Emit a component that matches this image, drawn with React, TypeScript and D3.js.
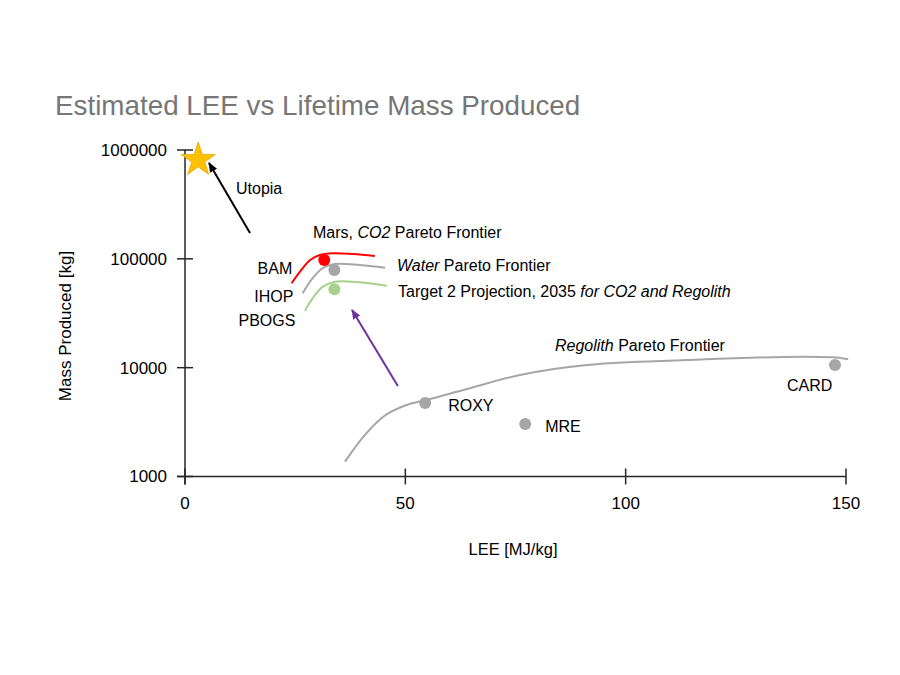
import * as d3 from 'd3';

// Axis ticks
const yTicks = [1000, 10000, 100000, 1000000];
const xTicks = [0, 50, 100, 150];

// Pareto frontier curves [LEE, mass]
const co2Frontier = [[24.2, 59600], [26.1, 76200], [28.4, 97500], [30.6, 108400], [33.6, 112400], [38.1, 110600], [43.1, 106200]];
const waterFrontier = [[26.7, 48200], [29.0, 66700], [31.3, 82400], [34.0, 89700], [39.7, 87800], [45.4, 82900]];
const target2Frontier = [[27.2, 33400], [29.0, 43600], [31.3, 55500], [34.0, 61700], [39.7, 60900], [45.8, 56600]];
const regolithFrontier = [[36.3, 1370], [40.5, 2320], [45.0, 3540], [50.3, 4540], [54.8, 5050], [63.2, 6240], [76.0, 8570], [91.2, 10600], [113.8, 11750], [140.2, 12600], [147.0, 12440], [150.5, 11940]];

// Technologies
const techNames = ['BAM', 'IHOP', 'PBOGS', 'ROXY', 'MRE', 'CARD'];
const techLee = [31.6, 33.9, 33.9, 54.5, 77.2, 147.5];
const techMass = [97500, 78900, 52500, 4730, 3030, 10600];
const techColor = ['#ff0000', '#a6a6a6', '#a9d18e', '#a6a6a6', '#a6a6a6', '#a6a6a6'];

const utopia = [3, 810000];
const utopiaArrow = [[14.75, 172600], [5.45, 760000]];
const targetArrow = [[48.3, 6790], [37.9, 33900]];

const font = '"Liberation Sans", Arial, sans-serif';

export default function App() {
  const x = d3.scaleLinear().domain([0, 150]).range([185, 846]);
  const y = d3.scaleLog().domain([1000, 1000000]).range([476.5, 150]);
  const line = d3.line<number[]>().x(d => x(d[0])).y(d => y(d[1])).curve(d3.curveCatmullRom);
  const smooth = d3.line<number[]>().x(d => x(d[0])).y(d => y(d[1])).curve(d3.curveMonotoneX);
  const star = d3.symbol().type(d3.symbolStar).size(360)();

  const arrow = (pts: number[][], color: string, id: string) => (
    <line x1={x(pts[0][0])} y1={y(pts[0][1])} x2={x(pts[1][0])} y2={y(pts[1][1])}
      stroke={color} strokeWidth={2} markerEnd={`url(#${id})`} />
  );

  // label offsets relative to the dot
  const labelPos: Record<string, [number, number, string]> = {
    BAM: [-32, 8, 'end'], IHOP: [-41, 26, 'end'], PBOGS: [-39, 31, 'end'],
    ROXY: [23, 2, 'start'], MRE: [20, 2, 'start'], CARD: [-48, 20, 'start'],
  };

  return (
    <svg width={900} height={675} style={{ position: 'absolute', left: 0, top: 0, background: '#fff' }}
      fontFamily={font}>
      <defs>
        <marker id="ab" viewBox="0 0 10 10" refX="9" refY="5" markerWidth="5" markerHeight="5" orient="auto">
          <path d="M0,1 L10,5 L0,9 z" fill="#000" />
        </marker>
        <marker id="ap" viewBox="0 0 10 10" refX="9" refY="5" markerWidth="5" markerHeight="5" orient="auto">
          <path d="M0,1 L10,5 L0,9 z" fill="#7030a0" />
        </marker>
      </defs>

      <text x={55} y={115} fontSize={27.8} fill="#767676">Estimated LEE vs Lifetime Mass Produced</text>

      {/* axes */}
      <line x1={x(0)} x2={x(0)} y1={y(1000000)} y2={y(1000) + 8} stroke="#262626" strokeWidth={1.5} />
      <line x1={x(0) - 8} x2={x(150)} y1={y(1000)} y2={y(1000)} stroke="#262626" strokeWidth={1.5} />
      {yTicks.map(t => (
        <g key={t}>
          <line x1={x(0) - 8} x2={x(0) + 8} y1={y(t)} y2={y(t)} stroke="#262626" strokeWidth={1.5} />
          <text x={167} y={y(t)} dy="0.35em" textAnchor="end" fontSize={17}>{t}</text>
        </g>
      ))}
      {xTicks.map(t => (
        <g key={t}>
          <line x1={x(t)} x2={x(t)} y1={y(1000) - 8} y2={y(1000) + 8} stroke="#262626" strokeWidth={1.5} />
          <text x={x(t)} y={503} dy="0.35em" textAnchor="middle" fontSize={17}>{t}</text>
        </g>
      ))}
      <text x={513} y={549} dy="0.35em" textAnchor="middle" fontSize={16.5}>LEE [MJ/kg]</text>
      <text transform="translate(65,326) rotate(-90)" dy="0.35em" textAnchor="middle" fontSize={17}>Mass Produced [kg]</text>

      {/* frontiers */}
      <path d={line(co2Frontier) || ''} fill="none" stroke="#ff0000" strokeWidth={2} />
      <path d={line(waterFrontier) || ''} fill="none" stroke="#a6a6a6" strokeWidth={2} />
      <path d={line(target2Frontier) || ''} fill="none" stroke="#a9d18e" strokeWidth={2} />
      <path d={smooth(regolithFrontier) || ''} fill="none" stroke="#a6a6a6" strokeWidth={2} />

      {/* arrows */}
      {arrow(utopiaArrow, '#000', 'ab')}
      {arrow(targetArrow, '#7030a0', 'ap')}

      {/* utopia star */}
      <path d={star || ''} transform={`translate(${x(utopia[0])},${y(utopia[1])})`} fill="#ffc000" stroke="#e0a800" strokeWidth={0.8} />
      <text x={236} y={188} dy="0.35em" fontSize={16}>Utopia</text>

      {/* tech points */}
      {techNames.map((n, i) => {
        const cx = x(techLee[i]);
        const cy = y(techMass[i]);
        const [dx, dy, anchor] = labelPos[n];
        return (
          <g key={n}>
            <circle cx={cx} cy={cy} r={6} fill={techColor[i]} />
            <text x={cx + dx} y={cy + dy} dy="0.35em" textAnchor={anchor} fontSize={16}>{n}</text>
          </g>
        );
      })}

      {/* frontier labels */}
      <text x={313} y={232} dy="0.35em" fontSize={16}>Mars, <tspan fontStyle="italic">CO2</tspan> Pareto Frontier</text>
      <text x={397} y={265} dy="0.35em" fontSize={16}><tspan fontStyle="italic">Water</tspan> Pareto Frontier</text>
      <text x={398} y={291} dy="0.35em" fontSize={16}>Target 2 Projection, 2035 <tspan fontStyle="italic">for CO2 and Regolith</tspan></text>
      <text x={555} y={345} dy="0.35em" fontSize={16}><tspan fontStyle="italic">Regolith</tspan> Pareto Frontier</text>
    </svg>
  );
}
